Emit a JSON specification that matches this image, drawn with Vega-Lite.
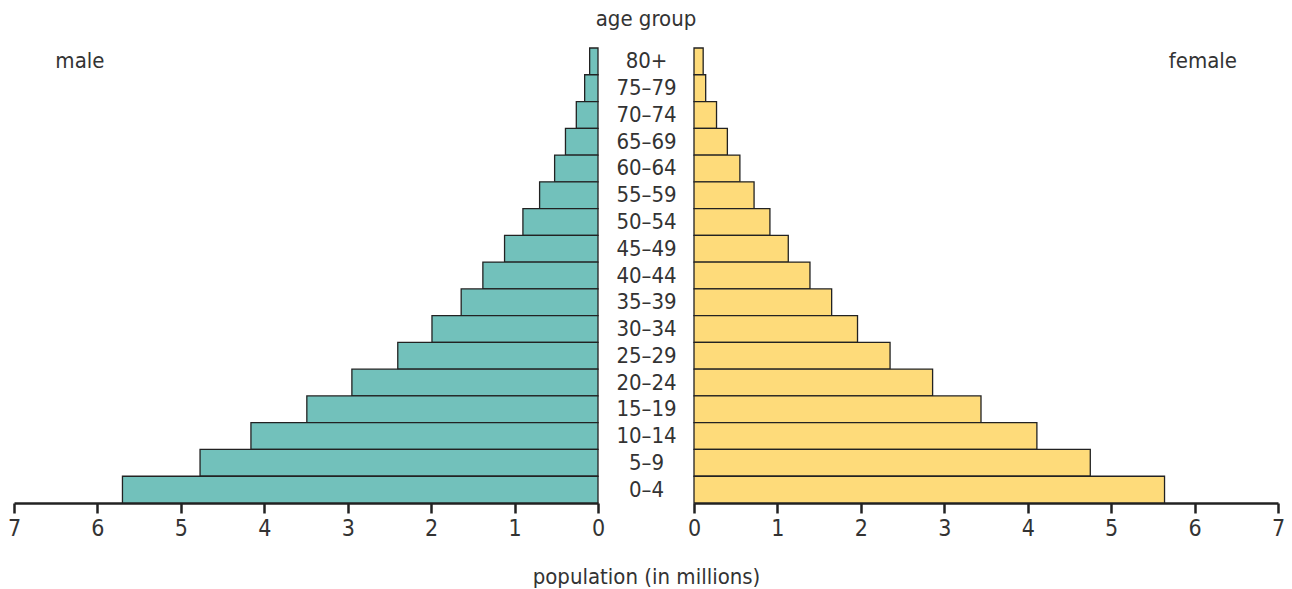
{
  "$schema": "https://vega.github.io/schema/vega-lite/v6.json",
  "autosize": {"type": "none"},
  "padding": {"left": 14, "top": 48, "right": 14, "bottom": 86},
  "params": [{"name": "width", "value": 1264}, {"name": "height", "value": 455}],
  "bounds": "flush",
  "spacing": 96,
  "background": "white",
  "title": {"text": "age group", "anchor": "middle", "fontSize": 22, "fontWeight": "normal", "color": "#333", "font": "Liberation Sans Narrow, DejaVu Sans Condensed, sans-serif", "offset": 16},
  "config": {
    "view": {"stroke": null},
    "font": "Liberation Sans Narrow, DejaVu Sans Condensed, sans-serif",
    "axis": {"labelFont": "Liberation Sans Narrow, DejaVu Sans Condensed, sans-serif", "titleFont": "Liberation Sans Narrow, DejaVu Sans Condensed, sans-serif", "labelColor": "#333", "titleColor": "#333", "grid": false}
  },
  "datasets": {
    "pop": [
      {"age": "80+", "male": 0.10, "female": 0.11},
      {"age": "75–79", "male": 0.16, "female": 0.14},
      {"age": "70–74", "male": 0.26, "female": 0.27},
      {"age": "65–69", "male": 0.39, "female": 0.40},
      {"age": "60–64", "male": 0.52, "female": 0.55},
      {"age": "55–59", "male": 0.70, "female": 0.72},
      {"age": "50–54", "male": 0.90, "female": 0.91},
      {"age": "45–49", "male": 1.12, "female": 1.13},
      {"age": "40–44", "male": 1.38, "female": 1.39},
      {"age": "35–39", "male": 1.64, "female": 1.65},
      {"age": "30–34", "male": 1.99, "female": 1.96},
      {"age": "25–29", "male": 2.40, "female": 2.35},
      {"age": "20–24", "male": 2.95, "female": 2.86},
      {"age": "15–19", "male": 3.49, "female": 3.44},
      {"age": "10–14", "male": 4.16, "female": 4.11},
      {"age": "5–9", "male": 4.77, "female": 4.75},
      {"age": "0–4", "male": 5.70, "female": 5.64}
    ]
  },
  "hconcat": [
    {
      "width": 584,
      "height": 455,
      "layer": [
        {
          "data": {"name": "pop"},
          "mark": {"type": "bar", "fill": "#72c1bb", "stroke": "#222", "strokeWidth": 1.3},
          "encoding": {
            "y": {"field": "age", "type": "nominal", "scale": {"domain": ["80+", "75–79", "70–74", "65–69", "60–64", "55–59", "50–54", "45–49", "40–44", "35–39", "30–34", "25–29", "20–24", "15–19", "10–14", "5–9", "0–4"], "paddingInner": 0, "paddingOuter": 0}, "axis": null},
            "x": {"field": "male", "type": "quantitative", "scale": {"domain": [0, 7], "reverse": true, "nice": false, "zero": true},
              "axis": {"values": [0, 1, 2, 3, 4, 5, 6, 7], "format": "d", "domainColor": "#222", "domainWidth": 2.5, "tickColor": "#222", "tickWidth": 2.5, "tickSize": 10, "labelFontSize": 23, "labelPadding": 4, "labelFlush": false, "title": "population (in millions)", "titleFontSize": 22, "titleFontWeight": "normal", "titleX": 632, "titleY": 80, "titleAlign": "center", "titleBaseline": "alphabetic"}}
          }
        },
        {
          "data": {"values": [{}]},
          "mark": {"type": "text", "fontSize": 22, "color": "#333", "align": "center", "baseline": "middle"},
          "encoding": {
            "x": {"datum": 6.21, "type": "quantitative"},
            "y": {"datum": "80+", "type": "nominal"},
            "text": {"value": "male"}
          }
        }
      ]
    },
    {
      "width": 584,
      "height": 455,
      "layer": [
        {
          "data": {"name": "pop"},
          "mark": {"type": "bar", "fill": "#fedb7a", "stroke": "#222", "strokeWidth": 1.3},
          "encoding": {
            "y": {"field": "age", "type": "nominal", "scale": {"domain": ["80+", "75–79", "70–74", "65–69", "60–64", "55–59", "50–54", "45–49", "40–44", "35–39", "30–34", "25–29", "20–24", "15–19", "10–14", "5–9", "0–4"], "paddingInner": 0, "paddingOuter": 0},
              "axis": {"orient": "left", "title": null, "domain": false, "ticks": false, "tickSize": 0, "labelAlign": "center", "labelBaseline": "middle", "labelPadding": 48, "labelFontSize": 22}},
            "x": {"field": "female", "type": "quantitative", "scale": {"domain": [0, 7], "nice": false, "zero": true},
              "axis": {"values": [0, 1, 2, 3, 4, 5, 6, 7], "format": "d", "domainColor": "#222", "domainWidth": 2.5, "tickColor": "#222", "tickWidth": 2.5, "tickSize": 10, "labelFontSize": 23, "labelPadding": 4, "labelFlush": false, "title": null}}
          }
        },
        {
          "data": {"values": [{}]},
          "mark": {"type": "text", "fontSize": 22, "color": "#333", "align": "center", "baseline": "middle"},
          "encoding": {
            "x": {"datum": 6.1, "type": "quantitative"},
            "y": {"datum": "80+", "type": "nominal"},
            "text": {"value": "female"}
          }
        }
      ]
    }
  ]
}
